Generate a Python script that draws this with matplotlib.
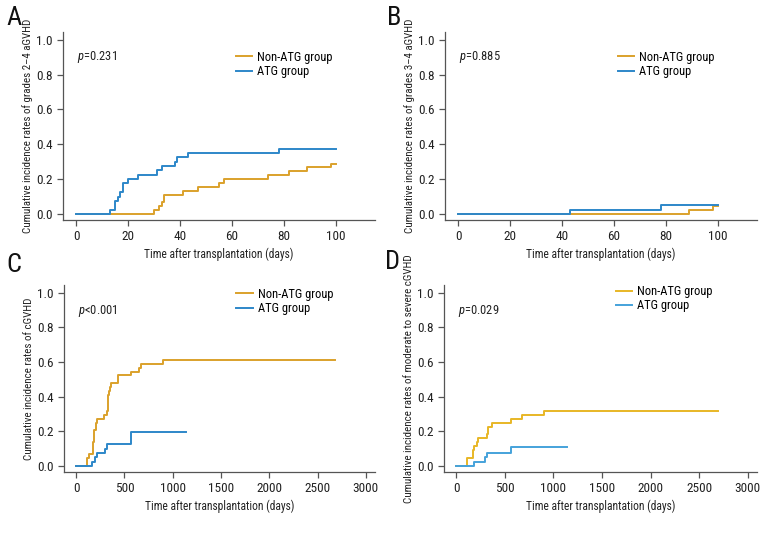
#!/usr/bin/env python
"""
Cumulative incidence of GVHD, ATG vs non-ATG group (four panels).
"""
import matplotlib
matplotlib.use("Agg")
import matplotlib.pyplot as plt
from matplotlib import font_manager

# Panel A: grades 2-4 aGVHD (days, cumulative incidence)
a_non_t = [0, 30, 32, 33, 34, 41, 47, 55, 57, 74, 82, 89, 98, 100]
a_non_y = [0, 0.022, 0.044, 0.067, 0.111, 0.133, 0.156, 0.178, 0.2, 0.222,
           0.244, 0.267, 0.289, 0.289]
a_atg_t = [0, 13, 15, 16, 17, 18, 20, 24, 31, 33, 38, 39, 43, 78, 100]
a_atg_y = [0, 0.025, 0.075, 0.1, 0.125, 0.175, 0.2, 0.225, 0.25, 0.275,
           0.3, 0.325, 0.35, 0.375, 0.375]

# Panel B: grades 3-4 aGVHD
b_non_t = [0, 89, 98, 100]
b_non_y = [0, 0.022, 0.044, 0.044]
b_atg_t = [0, 43, 78, 100]
b_atg_y = [0, 0.025, 0.05, 0.05]

# Panel C: cGVHD
c_non_t = [0, 115, 130, 175, 180, 185, 190, 205, 220, 290, 320, 330, 335,
           345, 355, 365, 430, 570, 650, 670, 900, 2680]
c_non_y = [0, 0.045, 0.068, 0.091, 0.136, 0.182, 0.205, 0.25, 0.273, 0.295,
           0.318, 0.364, 0.409, 0.432, 0.455, 0.477, 0.523, 0.545, 0.568,
           0.591, 0.614, 0.614]
c_atg_t = [0, 165, 195, 220, 300, 320, 565, 1140]
c_atg_y = [0, 0.025, 0.05, 0.075, 0.1, 0.125, 0.195, 0.195]

# Panel D: moderate to severe cGVHD
d_non_t = [0, 115, 175, 185, 210, 220, 320, 330, 365, 565, 680, 900, 2690]
d_non_y = [0, 0.045, 0.091, 0.114, 0.136, 0.159, 0.182, 0.227, 0.25, 0.273,
           0.295, 0.318, 0.318]
d_atg_t = [0, 180, 295, 320, 565, 1140]
d_atg_y = [0, 0.025, 0.05, 0.075, 0.11, 0.11]

p_values = ["=0.231", "=0.885", "<0.001", "=0.029"]
letters = ["A", "B", "C", "D"]
ylabels = ["Cumulative incidence rates of grades 2\u20134 aGVHD",
           "Cumulative incidence rates of grades 3\u20134 aGVHD",
           "Cumulative incidence rates of cGVHD",
           "Cumulative incidence rates of moderate to severe cGVHD"]
xlabel = "Time after transplantation (days)"

# pick the narrowest family that is installed
installed = {f.name for f in font_manager.fontManager.ttflist}
prefs = ["Roboto Condensed", "Open Sans Condensed", "Liberation Sans Narrow",
         "Lato", "Roboto", "DejaVu Sans"]
fam = [f for f in prefs if f in installed][0]
font = [fam, "DejaVu Sans"]
plt.rcParams["font.family"] = font
plt.rcParams["mathtext.fontset"] = "custom"
plt.rcParams["mathtext.it"] = fam + ":italic"
plt.rcParams["mathtext.rm"] = fam

ylab_fs = 7.9
xlab_fs = 8.3
tick_fs = 9.5
leg_fs = 9

orange = "#DBA12B"
blue = "#2D87C9"
orange_d = "#E8B726"
blue_d = "#45A2DA"
axcol = "#555555"

fig = plt.figure(figsize=(7.8, 5.4), dpi=100)
W, H = 780, 540
# axes boxes in pixels: left, top, right, bottom
boxes = [(63, 32, 375, 220), (445, 32, 757, 220),
         (64, 285, 375, 472), (444, 285, 757, 472)]
data = [(a_non_t, a_non_y, a_atg_t, a_atg_y),
        (b_non_t, b_non_y, b_atg_t, b_atg_y),
        (c_non_t, c_non_y, c_atg_t, c_atg_y),
        (d_non_t, d_non_y, d_atg_t, d_atg_y)]
leg_pos = [(0.865, 0.90), (0.865, 0.90), (0.865, 0.985), (0.858, 1.0)]
letter_pos = [(6, 18), (387, 18), (6, 265), (385, 262)]

for i, (l, t, r, b) in enumerate(boxes):
    ax = fig.add_axes([l / W, 1 - b / H, (r - l) / W, (b - t) / H])
    non_t, non_y, atg_t, atg_y = data[i]
    co = orange_d if i == 3 else orange
    cb = blue_d if i == 3 else blue
    ax.step(non_t, non_y, where="post", color=co, lw=1.4, label="Non-ATG group")
    ax.step(atg_t, atg_y, where="post", color=cb, lw=1.4, label="ATG group")
    if i < 2:
        ax.set_xlim(-5, 115)
        ax.set_xticks([0, 20, 40, 60, 80, 100])
    else:
        ax.set_xlim(-125, 3095)
        ax.set_xticks([0, 500, 1000, 1500, 2000, 2500, 3000])
    ax.set_ylim(-0.035, 1.045)
    ax.set_yticks([0, 0.2, 0.4, 0.6, 0.8, 1.0])
    ax.set_yticklabels(["0.0", "0.2", "0.4", "0.6", "0.8", "1.0"])
    for s in ["top", "right"]:
        ax.spines[s].set_visible(False)
    for s in ["left", "bottom"]:
        ax.spines[s].set_color(axcol)
        ax.spines[s].set_linewidth(0.9)
    ax.tick_params(direction="out", length=4, width=0.9, color=axcol,
                   labelsize=tick_fs, labelcolor="#222222")
    ax.set_xlabel(xlabel, fontsize=xlab_fs, color="#222222", labelpad=3)
    ax.set_ylabel(ylabels[i], fontsize=ylab_fs, color="#222222", labelpad=2)
    py = 0.867 if i < 2 else 0.863
    ax.text(0.044, py, "$p$" + p_values[i], transform=ax.transAxes,
            fontsize=leg_fs, color="#222222", ha="left", va="center")
    ax.legend(loc="upper right", bbox_to_anchor=leg_pos[i], frameon=False,
              fontsize=leg_fs, handlelength=1.3, handletextpad=0.4,
              labelspacing=0.1, borderaxespad=0, borderpad=0)
    fig.text(letter_pos[i][0] / W, 1 - letter_pos[i][1] / H, letters[i],
             fontsize=19, color="#111111", ha="left", va="center")

fig.savefig("out.png", dpi=100)
